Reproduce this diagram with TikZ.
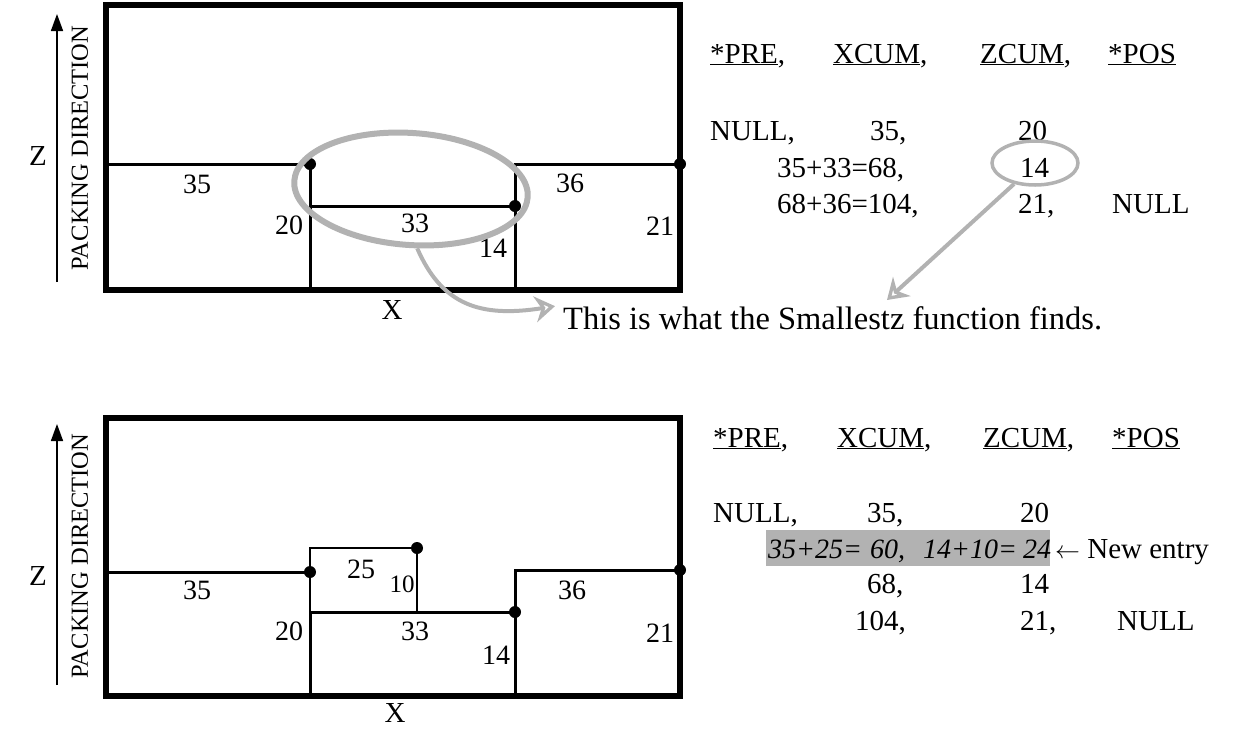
\documentclass[tikz,border=0pt]{standalone}
\usepackage{fontspec}
\setmainfont{Liberation Serif}
\usetikzlibrary{arrows.meta,shapes.geometric}
\begin{document}
\begin{tikzpicture}[x=1pt,y=-1pt,
  frame/.style={line width=6pt},
  wall/.style={line width=3pt},
  thinwall/.style={line width=1.8pt},
  dotm/.style={circle,fill=black,inner sep=0,minimum size=12pt},
  lbl/.style={inner sep=0,font=\fontsize{28}{28}\selectfont},
  tb/.style={inner sep=0,anchor=base west,font=\fontsize{29}{29}\selectfont},
  axisarrow/.style={line width=1.6pt,-{Triangle[length=17pt,width=12pt]}},
  pen/.style={draw=gray!60,line width=5pt},
  penarrow/.style={draw=gray!60,line width=4pt,-{Stealth[open,length=20pt,width=26pt]}},
]
\useasboundingbox (0,0) rectangle (1254,729);

% ---------- top diagram ----------
\coordinate (ta0) at (57,282);
\coordinate (ta1) at (57,14);
\draw[axisarrow] (ta0) -- (ta1);
\node[lbl,font=\fontsize{29}{29}\selectfont] (tz) at (38,156) {Z};
\node[inner sep=0,rotate=90,font=\fontsize{24.5}{24.5}\selectfont] (tpd) at (80,148) {PACKING DIRECTION};

\draw[frame] (106,5) rectangle (680,290);
\draw[wall] (106,164) -- (310,164) -- (310,290);
\draw[wall] (310,206) -- (515,206);
\draw[wall] (515,290) -- (515,164) -- (680,164);
\node[dotm] (td1) at (310,164) {};
\node[dotm] (td2) at (515,206) {};
\node[dotm] (td3) at (680,164) {};

\node[lbl] (t35) at (197,184) {35};
\node[lbl] (t20) at (289,225) {20};
\node[lbl] (t33) at (415,223) {33};
\node[lbl] (t14) at (493,248) {14};
\node[lbl] (t36) at (570,183) {36};
\node[lbl] (t21) at (660,226) {21};
\node[lbl,font=\fontsize{29}{29}\selectfont] (tx) at (392,310) {X};

\node[ellipse,pen,line width=6pt,minimum width=234pt,minimum height=112pt,rotate=-4] (bigell) at (411,189) {};

% ---------- top table ----------
\node[tb] (h1) at (710,63) {\underline{*PRE},};
\node[tb] (h2) at (833,63) {\underline{XCUM},};
\node[tb] (h3) at (980,63) {\underline{ZCUM},};
\node[tb] (h4) at (1108,63) {\underline{*POS}};
\node[tb] (r11) at (710,140) {NULL,};
\node[tb] (r12) at (870,140) {35,};
\node[tb] (r13) at (1018,140) {20};
\node[tb] (r22) at (777,177) {35+33=68,};
\node[tb] (r23) at (1020,177) {14};
\node[tb] (r32) at (777,213) {68+36=104,};
\node[tb] (r33) at (1018,213) {21,};
\node[tb] (r34) at (1112,213) {NULL};

\node[ellipse,pen,line width=3.5pt,minimum width=86pt,minimum height=44pt] (e14) at (1035,163) {};
\coordinate (tip14) at (887,300);
\draw[penarrow] (e14.225) -- (tip14);

\node[inner sep=0,anchor=west,font=\fontsize{32.5}{32.5}\selectfont] (msg) at (563,318) {This is what the Smallestz function finds.};
\draw[penarrow] (bigell.-80) .. controls (442,305) and (480,318) .. ([xshift=-8pt]msg.north west);

% ---------- bottom diagram ----------
\coordinate (ba0) at (57,685);
\coordinate (ba1) at (57,424);
\draw[axisarrow] (ba0) -- (ba1);
\node[lbl,font=\fontsize{29}{29}\selectfont] (bz) at (38,576) {Z};
\node[inner sep=0,rotate=90,font=\fontsize{24.5}{24.5}\selectfont] (bpd) at (80,556) {PACKING DIRECTION};

\draw[frame] (106,418) rectangle (680,696);
\draw[wall] (106,572) -- (310,572);
\draw[wall] (310,696) -- (310,612);
\draw[thinwall] (310,612) -- (310,548) -- (417,548) -- (417,612);
\draw[wall] (310,612) -- (515,612);
\draw[wall] (515,696) -- (515,570) -- (680,570);
\node[dotm] (bd1) at (310,572) {};
\node[dotm] (bd2) at (417,548) {};
\node[dotm] (bd3) at (515,612) {};
\node[dotm] (bd4) at (680,570) {};

\node[lbl] (b35) at (197,590) {35};
\node[lbl] (b25) at (361,569) {25};
\node[lbl,font=\fontsize{25}{25}\selectfont] (b10) at (402,584) {10};
\node[lbl] (b20) at (289,631) {20};
\node[lbl] (b33) at (415,631) {33};
\node[lbl] (b14) at (496,655) {14};
\node[lbl] (b36) at (572,590) {36};
\node[lbl] (b21) at (660,633) {21};
\node[lbl,font=\fontsize{29}{29}\selectfont] (bx) at (395,713) {X};

% ---------- bottom table ----------
\node[tb] (g1) at (713,447) {\underline{*PRE},};
\node[tb] (g2) at (837,447) {\underline{XCUM},};
\node[tb] (g3) at (983,447) {\underline{ZCUM},};
\node[tb] (g4) at (1112,447) {\underline{*POS}};
\node[tb] (s11) at (713,522) {NULL,};
\node[tb] (s12) at (867,522) {35,};
\node[tb] (s13) at (1020,522) {20};
\fill[gray!60] (766,530) rectangle (1050,566);
\node[tb,font=\fontsize{28}{28}\selectfont] (s21) at (768,558) {\itshape 35+25=};
\node[tb,font=\fontsize{28}{28}\selectfont] (s22) at (870,558) {\itshape 60,};
\node[tb,font=\fontsize{28}{28}\selectfont] (s23) at (923,558) {\itshape 14+10=};
\node[tb,font=\fontsize{28}{28}\selectfont] (s24) at (1023,558) {\itshape 24};
\node[tb] (snew) at (1055,558) {$\leftarrow$ New entry};
\node[tb] (s32) at (867,593) {68,};
\node[tb] (s33) at (1020,593) {14};
\node[tb] (s42) at (855,630) {104,};
\node[tb] (s43) at (1020,630) {21,};
\node[tb] (s44) at (1117,630) {NULL};
\end{tikzpicture}
\end{document}
